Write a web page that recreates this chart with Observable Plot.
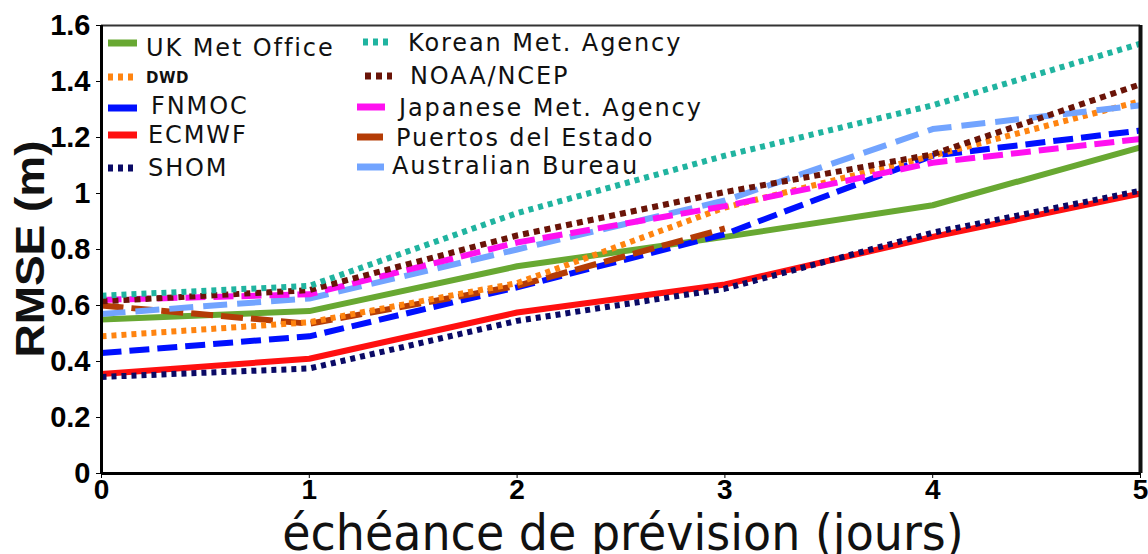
<!DOCTYPE html>
<html>
<head>
<meta charset="utf-8">
<script src="https://cdn.jsdelivr.net/npm/d3@7"></script>
<script src="https://cdn.jsdelivr.net/npm/@observablehq/plot@0.6"></script>
<style>
  html, body { margin: 0; padding: 0; background: #fff; }
  #wrap { position: relative; width: 1148px; height: 554px; overflow: hidden; }
  .leg { position: absolute; left: 0; top: 0; width: 1148px; height: 554px; pointer-events: none;
         font-family: "DejaVu Sans", sans-serif; color: #111; }
  .leg svg { position: absolute; }
  .leg span { position: absolute; display: block; white-space: nowrap; font-size: 24px; letter-spacing: 1.9px; line-height: 1; }
</style>
</head>
<body>
<div id="wrap"></div>
<script>
// ---- data ----
const days = [0, 1, 2, 3, 4, 5];
const yTicks = [0, 0.2, 0.4, 0.6, 0.8, 1, 1.2, 1.4, 1.6];
const yTickLabels = ["0", "0.2", "0.4", "0.6", "0.8", "1", "1.2", "1.4", "1.6"];
const xTickLabels = ["0", "1", "2", "3", "4", "5"];

const names = ["UK Met Office", "DWD", "FNMOC", "ECMWF", "SHOM",
  "Korean Met. Agency", "NOAA/NCEP", "Japanese Met. Agency", "Puertos del Estado", "Australian Bureau"];

const ukMet      = [0.55, 0.58, 0.74, 0.845, 0.958, 1.165];
const dwd        = [0.49, 0.54, 0.68, 0.95, 1.135, 1.33];
const fnmoc      = [0.43, 0.49, 0.665, 0.855, 1.135, 1.225];
const ecmwf      = [0.355, 0.41, 0.575, 0.675, 0.845, 1.0];
const shom       = [0.345, 0.375, 0.545, 0.66, 0.86, 1.01];
const korean     = [0.635, 0.67, 0.93, 1.135, 1.315, 1.535];
const noaa       = [0.615, 0.655, 0.85, 1.005, 1.14, 1.39];
const japanese   = [0.62, 0.64, 0.825, 0.955, 1.11, 1.195];
const puertos    = [0.60, 0.535, 0.67, 0.875];
const australian = [0.57, 0.625, 0.80, 0.975, 1.23, 1.315];

const seriesValues = [ukMet, dwd, fnmoc, ecmwf, shom, korean, noaa, japanese, puertos, australian];
const colors = ["#68a832", "#ff8410", "#0010ff", "#ff1010", "#0a0a66",
  "#20b4a0", "#6a1408", "#ff10f0", "#b43c06", "#72a4ff"];
const dashes = ["none", "5,5", "20,8", "none", "5,5",
  "5,5", "6,5", "20,8", "22,8", "24,10"];
const legendDotted = [false, true, false, false, true, true, true, false, false, false];
// drawing order (bottom to top)
const drawOrder = [0, 3, 4, 2, 8, 1, 9, 7, 6, 5];

// ---- table ----
const rows = [];
names.forEach((n, i) => seriesValues[i].forEach((v, j) => rows.push({series: n, day: days[j], rmse: v})));

const tickFont = "'Liberation Sans Narrow', 'Liberation Sans', Arial, sans-serif";

const lineMarks = drawOrder.map(i => Plot.line(rows.filter(d => d.series === names[i]), {
  x: "day", y: "rmse",
  stroke: colors[i], strokeWidth: 6,
  strokeDasharray: dashes[i] === "none" ? undefined : dashes[i],
  strokeLinecap: "butt", strokeLinejoin: "round"
}));

const chart = Plot.plot({
  width: 1148,
  height: 554,
  marginLeft: 101,
  marginRight: 8,
  marginTop: 25,
  marginBottom: 81,
  style: {background: "transparent", overflow: "visible"},
  x: {domain: [0, 5]},
  y: {domain: [0, 1.6]},
  marks: [
    ...lineMarks,
    Plot.ruleY([1.6], {stroke: "#333", strokeWidth: 2}),
    Plot.ruleX([5], {stroke: "#111", strokeWidth: 4}),
    Plot.ruleX([0], {stroke: "#000", strokeWidth: 3}),
    Plot.ruleY([0], {stroke: "#000", strokeWidth: 3}),
    Plot.axisY({
      ticks: yTicks, tickSize: 5, tickPadding: 6, label: null,
      tickFormat: d => yTickLabels[yTicks.indexOf(d)],
      fontSize: 29, fontWeight: "bold", fontFamily: tickFont, fill: "#000"
    }),
    Plot.axisX({
      ticks: days, tickSize: 5, tickPadding: 1, label: null,
      tickFormat: d => xTickLabels[days.indexOf(d)],
      fontSize: 28, fontWeight: "bold", fontFamily: tickFont, fill: "#000"
    })
  ]
});
document.getElementById("wrap").appendChild(chart);

// axis titles
const svg = d3.select(chart);
svg.append("text")
  .attr("transform", "translate(44,249) rotate(-90) scale(1.15,1)")
  .attr("text-anchor", "middle")
  .attr("font-family", "'Liberation Sans', Arial, sans-serif")
  .attr("font-weight", "bold")
  .attr("font-size", 40)
  .attr("fill", "#111")
  .text("RMSE (m)");
svg.append("text")
  .attr("transform", "translate(623,550) scale(0.92,1)")
  .attr("text-anchor", "middle")
  .attr("font-family", "'DejaVu Sans', sans-serif")
  .attr("font-size", 50)
  .attr("fill", "#111")
  .text("échéance de prévision (jours)");

// legend (HTML overlay inside the plot area)
const legendPos = [
  // [swatchX, swatchY, swatchLen, textX, baselineY]
  [108, 43, 29, 146, 55], [108, 77, 29, 146, 83], [108, 108, 29, 151, 113], [108, 135, 29, 148, 142], [108, 168, 29, 148, 175],
  [363, 42, 29, 408, 50], [365, 76, 27, 410, 83], [357, 107, 28, 399, 115], [357, 137, 26, 396, 145], [357, 167, 27, 392, 173]
];
const leg = document.createElement("div");
leg.className = "leg";
names.forEach((n, i) => {
  const [sx, sy, sl, tx, by] = legendPos[i];
  const s = document.createElementNS("http://www.w3.org/2000/svg", "svg");
  s.setAttribute("width", sl); s.setAttribute("height", 10);
  s.style.left = sx + "px"; s.style.top = (sy - 5) + "px";
  const l = document.createElementNS("http://www.w3.org/2000/svg", "line");
  l.setAttribute("x1", 0); l.setAttribute("x2", sl); l.setAttribute("y1", 5); l.setAttribute("y2", 5);
  l.setAttribute("stroke", colors[i]); l.setAttribute("stroke-width", 7);
  if (legendDotted[i]) l.setAttribute("stroke-dasharray", dashes[i]);
  s.appendChild(l);
  leg.appendChild(s);
  const t = document.createElement("span");
  t.textContent = n;
  t.style.left = tx + "px";
  if (n === "DWD") {
    t.style.fontSize = "15px"; t.style.fontWeight = "bold"; t.style.letterSpacing = "0.5px";
    t.style.top = (by - 12) + "px";
  } else {
    t.style.top = (by - 19) + "px";
  }
  leg.appendChild(t);
});
document.getElementById("wrap").appendChild(leg);
</script>
</body>
</html>
